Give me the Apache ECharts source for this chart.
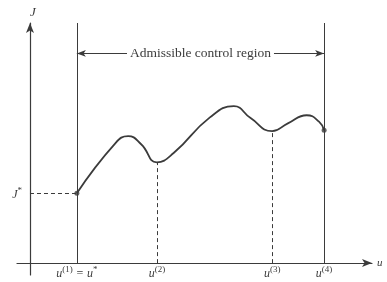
<!DOCTYPE html>
<html>
<head>
<meta charset="utf-8">
<script src="https://cdn.jsdelivr.net/npm/echarts@6/dist/echarts.min.js"></script>
<style>
  html, body { margin: 0; padding: 0; background: #fff; }
  #chart { width: 387px; height: 282px; }
</style>
</head>
<body>
<div id="chart"></div>
<script>
// curve J(u) (u and J on a 0..100 scale)
const curveU = [13.7, 25.0, 28.7, 32.5, 37.1, 42.0, 52.6, 59.6, 64.5, 70.8, 75.4, 80.9, 84.5, 86.0]
const curveJ = [29.4, 50.5, 53.4, 50.0, 42.4, 46.3, 61.3, 66.0, 61.0, 55.5, 58.8, 62.2, 59.5, 55.9]

// marked controls u(1)..u(4)
const markU = [13.7, 37.1, 70.8, 86.0]
const markJ = [29.4, 42.4, 55.5, 55.9]
const markSup = ['(1)', '(2)', '(3)', '(4)']
const jStar = 29.4
const regionJ = 88.2
const topJ = 101

const ink = '#3b3b3b'
const serif = '"Liberation Serif", "DejaVu Serif", serif'

const chart = echarts.init(document.getElementById('chart'))

const uLabel = (i) => {
  if (i === 0) return '{b|u}{s|' + markSup[0] + '}{b| = u}{s|*}'
  return '{b|u}{s|' + markSup[i] + '}'
}

const richU = {
  b: { fontFamily: serif, fontStyle: 'italic', fontSize: 12, color: ink, lineHeight: 15, verticalAlign: 'bottom' },
  s: { fontFamily: serif, fontSize: 9, color: ink, lineHeight: 15, verticalAlign: 'top' }
}

const vertLines = markU.map((u, i) => {
  const solid = i === 0 || i === markU.length - 1
  return [
    {
      coord: [u, 0],
      lineStyle: { color: ink, width: 1, type: solid ? 'solid' : [4, 3] },
      label: {
        show: true, position: 'start', distance: 2,
        formatter: uLabel(i), rich: richU
      }
    },
    { coord: [u, solid ? topJ : markJ[i]] }
  ]
})

const option = {
  animation: false,
  backgroundColor: '#fff',
  grid: { left: 17, right: 15, top: 23, bottom: 7 },
  xAxis: {
    type: 'value', min: -3.8, max: 100,
    name: 'u', nameGap: 5,
    nameTextStyle: { fontFamily: serif, fontStyle: 'italic', fontSize: 11, color: ink },
    axisLine: { onZero: true, symbol: ['none', 'arrow'], symbolSize: [6, 10], lineStyle: { color: ink, width: 1.2 } },
    axisTick: { show: false }, axisLabel: { show: false }, splitLine: { show: false }
  },
  yAxis: {
    type: 'value', min: -5, max: topJ,
    name: 'J', nameGap: 4,
    nameTextStyle: { fontFamily: serif, fontStyle: 'italic', fontSize: 13, color: ink, padding: [0, 0, 0, 6] },
    axisLine: { onZero: true, symbol: ['none', 'arrow'], symbolSize: [6, 10], lineStyle: { color: ink, width: 1.2 } },
    axisTick: { show: false }, axisLabel: { show: false }, splitLine: { show: false }
  },
  series: [
    {
      type: 'line',
      data: curveU.map((u, i) => [u, curveJ[i]]),
      smooth: 0.5,
      showSymbol: false,
      lineStyle: { color: ink, width: 1.8 },
      markLine: {
        silent: true,
        symbol: 'none',
        data: [
          ...vertLines,
          [
            {
              coord: [0, jStar],
              lineStyle: { color: ink, width: 1, type: [4, 3] },
              label: {
                show: true, position: 'start', distance: 8,
                formatter: '{b|J}{s|*}', rich: richU
              }
            },
            { coord: [markU[0], jStar] }
          ],
          [
            {
              coord: [markU[0], regionJ], symbol: 'arrow', symbolSize: [5, 9],
              lineStyle: { color: ink, width: 1.2, type: 'solid' },
              label: {
                show: true, position: 'middle', distance: 0, verticalAlign: 'middle',
                formatter: 'Admissible control region',
                fontFamily: serif, fontSize: 13.5, color: ink,
                backgroundColor: '#fff', padding: [1, 3]
              }
            },
            { coord: [markU[3], regionJ], symbol: 'arrow', symbolSize: [5, 9] }
          ]
        ]
      }
    },
    {
      type: 'scatter',
      data: [[curveU[0], curveJ[0]], [curveU[curveU.length - 1], curveJ[curveJ.length - 1]]],
      symbolSize: 5,
      itemStyle: { color: ink }
    }
  ]
}

chart.setOption(option)
</script>
</body>
</html>
